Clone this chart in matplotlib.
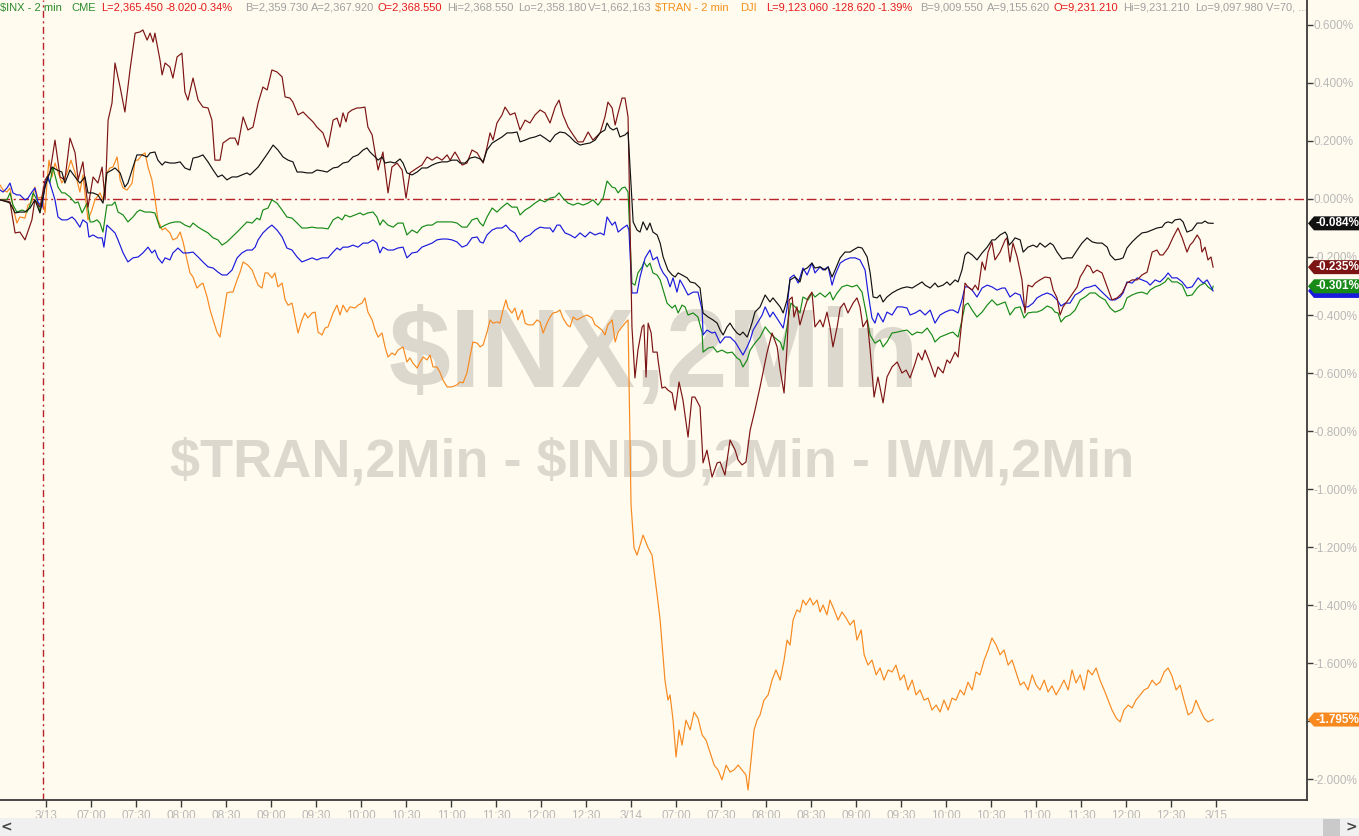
import numpy as np
import matplotlib
matplotlib.use("Agg")
import matplotlib.pyplot as plt
from matplotlib.patches import Polygon, Rectangle

# x = 2-minute bar index counted from the 3/13 open, y = % change
blk_x = [-15.3, -13.0, -12.0, -10.3, -8.7, -7.0, -5.3, -3.7, -2.0, -0.3, 0.7, 2.0, 3.7, 5.3, 6.3, 8.0, 9.7, 11.3, 13.0, 14.0,
         15.7, 17.3, 19.0, 20.3, 22.0, 23.0, 24.7, 26.3, 27.3, 29.0, 30.3, 32.0, 33.7, 34.7, 36.3, 37.3, 38.7, 39.7, 41.3, 43.0,
         44.7, 46.3, 48.0, 49.0, 50.7, 52.3, 54.0, 55.7, 57.3, 58.7, 60.3, 62.0, 63.7, 65.3, 67.0, 68.0, 69.0, 70.7, 72.3, 74.0,
         75.7, 77.3, 79.0, 80.7, 82.3, 83.7, 85.3, 87.0, 88.7, 90.3, 92.0, 93.7, 95.7, 97.3, 99.0, 100.7, 102.3, 104.0, 105.7, 107.0,
         108.0, 109.7, 110.7, 112.0, 113.0, 114.7, 116.3, 118.0, 119.0, 120.3, 122.0, 123.7, 125.3, 127.0, 128.7, 130.3, 132.0, 133.7, 135.3, 137.0,
         138.0, 139.7, 141.3, 143.0, 144.7, 145.7, 147.0, 148.7, 150.3, 152.0, 153.7, 155.3, 157.0, 158.0, 159.7, 161.3, 163.0, 164.7, 166.3, 168.0,
         169.7, 171.3, 173.0, 174.7, 176.3, 178.0, 179.7, 181.3, 183.0, 184.7, 186.3, 187.0, 188.0, 189.0, 190.3, 191.3, 193.0, 194.0,
         195.7, 197.0, 198.0, 199.0, 200.3, 201.3, 202.3, 203.7, 204.7, 205.7, 207.3, 208.7, 209.7, 210.7, 212.0, 213.7, 214.7, 216.3, 218.0, 219.0,
         220.7, 222.3, 223.7, 224.7, 225.7, 227.0, 228.0, 229.0, 230.3, 231.3, 232.3, 233.7, 234.0, 235.3, 236.3, 238.0, 239.7, 241.3, 242.3, 243.7,
         244.7, 245.7, 247.0, 248.0, 249.7, 251.3, 252.3, 253.7, 255.3, 256.3, 258.0, 259.7, 260.7, 262.0, 263.0, 264.7, 266.3, 268.0, 269.0, 270.7,
         272.0, 273.7, 274.7, 275.7, 277.0, 278.0, 279.0, 280.3, 282.0, 283.7, 285.3, 287.0, 288.7, 290.3, 292.0, 293.0, 294.7, 296.3, 297.3, 299.0,
         300.3, 301.3, 303.0, 304.0, 305.3, 306.3, 307.3, 308.7, 310.3, 312.0, 313.7, 315.3, 316.3, 318.0, 319.7, 320.3, 321.0, 322.0, 323.0, 324.7,
         325.7, 327.3, 329.0, 330.3, 331.3, 333.0, 334.7, 335.7, 337.0, 338.7, 340.3, 342.0, 343.7, 345.3, 347.0, 348.7, 350.3, 352.0, 353.7, 354.7,
         356.3, 358.0, 359.0, 360.3, 362.0, 363.7, 365.3, 367.0, 368.7, 370.3, 372.0, 373.0, 374.0, 375.3, 376.3, 378.0, 379.0, 380.3, 382.0, 383.7,
         385.3, 386.3, 387.3, 389.0]
blk_y = [-0.003, -0.010, -0.014, -0.048, -0.045, -0.045, -0.031, -0.003, -0.048, 0.041, 0.076, 0.110, 0.100, 0.093, 0.055, 0.100, 0.076, 0.055, 0.076, 0.021,
         0.021, 0.014, -0.014, 0.090, 0.100, 0.107, 0.090, 0.041, 0.055, 0.110, 0.152, 0.152, 0.145, 0.159, 0.162, 0.134, 0.117, 0.128, 0.124, 0.124,
         0.128, 0.107, 0.100, 0.141, 0.145, 0.152, 0.128, 0.100, 0.076, 0.083, 0.066, 0.076, 0.076, 0.083, 0.090, 0.083, 0.093, 0.110, 0.134, 0.159,
         0.186, 0.169, 0.145, 0.134, 0.128, 0.093, 0.093, 0.090, 0.090, 0.100, 0.097, 0.093, 0.107, 0.110, 0.124, 0.128, 0.145, 0.152, 0.169, 0.176,
         0.162, 0.145, 0.134, 0.145, 0.124, 0.128, 0.124, 0.138, 0.124, 0.090, 0.083, 0.093, 0.107, 0.107, 0.117, 0.124, 0.128, 0.128, 0.134, 0.134,
         0.124, 0.124, 0.141, 0.145, 0.138, 0.128, 0.169, 0.193, 0.203, 0.214, 0.228, 0.228, 0.231, 0.197, 0.203, 0.210, 0.214, 0.221, 0.210, 0.197,
         0.221, 0.231, 0.228, 0.214, 0.197, 0.186, 0.190, 0.193, 0.203, 0.228, 0.238, 0.262, 0.245, 0.238, 0.245, 0.214, 0.221, 0.231,
         -0.079, -0.107, -0.114, -0.079, -0.107, -0.083, -0.114, -0.124, -0.152, -0.200, -0.245, -0.262, -0.269, -0.255, -0.262, -0.272, -0.286, -0.290, -0.307, -0.393,
         -0.407, -0.417, -0.428, -0.452, -0.469, -0.441, -0.428, -0.445, -0.462, -0.469, -0.459, -0.476, -0.469, -0.428, -0.390, -0.372, -0.331, -0.355, -0.341, -0.359,
         -0.372, -0.393, -0.348, -0.279, -0.269, -0.286, -0.245, -0.238, -0.221, -0.238, -0.234, -0.245, -0.234, -0.269, -0.245, -0.203, -0.183, -0.183, -0.176, -0.166,
         -0.169, -0.200, -0.255, -0.338, -0.341, -0.331, -0.355, -0.338, -0.324, -0.314, -0.307, -0.303, -0.307, -0.297, -0.286, -0.297, -0.307, -0.290, -0.303, -0.297,
         -0.286, -0.297, -0.279, -0.286, -0.245, -0.193, -0.183, -0.193, -0.210, -0.186, -0.166, -0.141, -0.141, -0.124, -0.114, -0.124, -0.159, -0.148, -0.134, -0.141,
         -0.183, -0.166, -0.159, -0.166, -0.152, -0.166, -0.152, -0.159, -0.183, -0.207, -0.203, -0.203, -0.176, -0.152, -0.134, -0.148, -0.152, -0.152, -0.166, -0.193,
         -0.210, -0.207, -0.203, -0.169, -0.148, -0.131, -0.117, -0.114, -0.107, -0.100, -0.097, -0.083, -0.079, -0.083, -0.072, -0.069, -0.079, -0.114, -0.107, -0.083,
         -0.083, -0.076, -0.083, -0.084]

mar_x = [-15.3, -12.0, -10.3, -8.7, -7.0, -4.7, -3.7, -2.0, -0.3, 1.3, 3.0, 4.7, 6.3, 8.0, 9.7, 10.7, 12.3, 14.0, 15.7, 17.3,
         18.7, 19.7, 20.7, 22.0, 23.0, 24.7, 26.3, 28.0, 29.7, 31.3, 32.3, 33.7, 34.7, 35.7, 36.3, 38.0, 38.7, 39.7, 41.3, 42.3,
         43.7, 45.3, 46.3, 47.3, 49.0, 50.7, 52.3, 54.0, 55.3, 56.3, 58.0, 59.0, 61.3, 63.0, 64.0, 65.7, 67.3, 69.0, 70.7, 72.3,
         73.7, 75.3, 77.0, 78.7, 79.7, 81.3, 82.3, 84.0, 85.7, 87.3, 89.0, 90.3, 92.3, 94.0, 95.7, 97.0, 98.0, 99.0, 100.0, 100.7,
         102.0, 103.7, 104.7, 106.3, 107.3, 108.7, 109.7, 110.7, 112.3, 114.0, 115.3, 117.0, 118.7, 120.0, 121.3, 123.7, 125.3, 127.0, 128.7, 130.3,
         132.0, 133.7, 134.7, 136.3, 137.3, 138.7, 140.3, 142.0, 143.7, 145.7, 147.0, 148.0, 149.0, 150.3, 152.0, 153.0, 154.7, 156.3, 158.0, 159.7,
         161.3, 163.0, 164.7, 166.3, 168.0, 169.7, 171.0, 172.3, 174.0, 175.7, 177.3, 179.0, 180.7, 182.3, 184.7, 186.3, 187.3, 188.7, 189.7, 190.7,
         192.0, 193.0, 194.0,
         195.3, 196.3, 197.3, 198.7, 199.3, 200.0, 200.7, 201.7, 202.3, 203.7, 204.0, 205.3, 206.3, 207.3, 208.7, 209.7, 211.0, 212.3, 214.0, 215.3,
         216.3, 218.0, 219.0, 220.3, 222.0, 223.7, 224.7, 226.3, 228.0, 229.7, 230.7, 232.0, 233.3, 234.7, 236.3, 238.0, 240.3, 242.0, 243.7, 244.7,
         246.0, 247.0, 247.7, 248.7, 249.3, 250.3, 251.3, 253.0, 254.0, 255.3, 256.3, 258.0, 259.0, 260.3, 261.3, 262.3, 263.7, 264.7, 266.0, 267.3,
         269.0, 270.3, 271.3, 272.3, 273.7, 274.7, 276.0, 277.3, 279.0, 280.3, 282.0, 283.7, 285.3, 286.7, 288.0, 289.7, 290.7, 292.0, 293.0, 294.7,
         296.3, 297.3, 299.0, 300.3, 301.3, 303.0, 304.0, 305.3, 306.3, 307.3, 308.7, 309.7, 310.7, 312.0, 313.0, 314.0, 315.3, 316.3, 318.0, 319.7,
         320.3, 321.3, 322.3, 323.7, 325.3, 326.3, 327.3, 328.7, 329.7, 331.3, 333.0, 334.7, 335.7, 337.0, 338.0, 339.0, 340.7, 342.3, 343.7, 344.7,
         345.7, 347.0, 348.0, 349.0, 350.3, 352.0, 353.7, 355.3, 357.0, 358.7, 360.3, 362.0, 363.7, 365.3, 367.0, 368.7, 370.3, 371.3, 372.3, 374.0,
         375.7, 377.3, 378.7, 380.3, 381.3, 382.3, 383.7, 384.7, 385.3, 386.3, 387.3, 388.3, 389.0]
mar_y = [-0.003, -0.010, -0.117, -0.114, -0.141, -0.072, -0.003, -0.028, 0.066, 0.090, 0.203, 0.076, 0.066, 0.210, 0.159, 0.066, 0.128, -0.028, 0.076, 0.055,
         0.110, -0.003, 0.272, 0.331, 0.469, 0.386, 0.300, 0.445, 0.572, 0.576, 0.583, 0.548, 0.572, 0.541, 0.572, 0.479, 0.428, 0.469, 0.455, 0.417,
         0.490, 0.503, 0.369, 0.341, 0.417, 0.341, 0.317, 0.314, 0.272, 0.134, 0.134, 0.193, 0.210, 0.210, 0.186, 0.283, 0.238, 0.248, 0.331, 0.386,
         0.376, 0.445, 0.438, 0.421, 0.352, 0.348, 0.334, 0.290, 0.300, 0.283, 0.266, 0.248, 0.228, 0.179, 0.272, 0.279, 0.248, 0.297, 0.266, 0.297,
         0.307, 0.314, 0.314, 0.317, 0.248, 0.221, 0.159, 0.100, 0.162, 0.021, 0.110, 0.124, 0.100, 0.003, 0.090, 0.107, 0.117, 0.145, 0.134, 0.145,
         0.134, 0.152, 0.134, 0.162, 0.145, 0.117, 0.124, 0.169, 0.159, 0.124, 0.179, 0.228, 0.203, 0.262, 0.290, 0.317, 0.290, 0.297, 0.238, 0.272,
         0.262, 0.290, 0.307, 0.297, 0.262, 0.317, 0.341, 0.290, 0.248, 0.221, 0.197, 0.197, 0.231, 0.203, 0.228, 0.283, 0.334, 0.314, 0.255, 0.297,
         0.348, 0.348, 0.283,
         -0.441, -0.617, -0.521, -0.441, -0.434, -0.614, -0.428, -0.462, -0.528, -0.528, -0.555, -0.652, -0.648, -0.659, -0.669, -0.728, -0.631, -0.693, -0.821, -0.683,
         -0.683, -0.717, -0.910, -0.866, -0.959, -0.910, -0.907, -0.952, -0.831, -0.866, -0.900, -0.917, -0.907, -0.797, -0.728, -0.648, -0.531, -0.462, -0.510, -0.590,
         -0.669, -0.510, -0.348, -0.338, -0.407, -0.372, -0.434, -0.372, -0.341, -0.321, -0.441, -0.417, -0.441, -0.390, -0.441, -0.510, -0.441, -0.376, -0.359, -0.393,
         -0.359, -0.341, -0.372, -0.441, -0.417, -0.521, -0.683, -0.614, -0.703, -0.614, -0.579, -0.562, -0.600, -0.590, -0.617, -0.566, -0.531, -0.555, -0.521, -0.566,
         -0.614, -0.579, -0.600, -0.555, -0.566, -0.528, -0.545, -0.417, -0.290, -0.303, -0.314, -0.297, -0.314, -0.217, -0.245, -0.183, -0.148, -0.210, -0.183, -0.141,
         -0.134, -0.217, -0.152, -0.200, -0.279, -0.393, -0.297, -0.303, -0.290, -0.279, -0.269, -0.272, -0.314, -0.341, -0.400, -0.372, -0.348, -0.324, -0.303, -0.269,
         -0.252, -0.228, -0.234, -0.255, -0.245, -0.255, -0.303, -0.348, -0.341, -0.324, -0.290, -0.279, -0.279, -0.262, -0.252, -0.183, -0.176, -0.193, -0.193, -0.169,
         -0.131, -0.100, -0.134, -0.183, -0.159, -0.148, -0.124, -0.141, -0.183, -0.166, -0.210, -0.200, -0.235]

grn_x = [-15.3, -13.0, -12.0, -11.0, -9.7, -8.0, -6.3, -5.3, -4.3, -3.0, -2.0, -1.0, 0.3, 1.3, 2.3, 4.0, 5.3, 6.3, 8.0, 9.7,
         10.7, 12.0, 13.7, 14.7, 15.7, 17.0, 18.0, 19.0, 20.3, 22.0, 23.0, 24.0, 25.7, 27.3, 29.0, 30.3, 31.3, 33.0, 34.7, 36.3,
         38.0, 39.7, 41.3, 43.0, 44.7, 46.3, 48.0, 49.0, 50.7, 52.3, 54.0, 55.7, 57.3, 58.7, 60.3, 62.0, 63.7, 65.3, 67.0, 68.7,
         70.3, 71.3, 72.3, 74.0, 75.3, 77.0, 78.7, 80.3, 82.0, 83.7, 85.3, 87.0, 88.7, 90.3, 92.0, 94.0, 95.7, 97.3, 98.7, 99.7,
         101.3, 103.0, 104.7, 105.7, 107.3, 109.0, 110.3, 111.3, 112.3, 114.0, 115.7, 117.3, 119.0, 120.3, 122.0, 123.7, 125.3, 127.0, 128.7, 130.3,
         132.0, 133.7, 135.3, 137.0, 138.7, 140.3, 142.0, 143.7, 144.7, 145.7, 147.0, 148.7, 150.3, 152.0, 153.7, 155.3, 157.0, 158.0, 159.7, 161.3,
         163.0, 164.7, 166.3, 168.0, 169.7, 171.0, 172.3, 174.0, 175.7, 177.3, 179.0, 180.7, 182.3, 184.0, 185.7, 187.0, 188.7, 189.7, 190.7, 192.0,
         193.0, 194.0,
         195.3, 196.3, 197.3, 198.7, 199.3, 200.3, 201.3, 202.3, 203.7, 204.7, 205.7, 207.0, 208.7, 209.7, 210.7, 212.0, 213.0, 214.0, 215.7, 217.3,
         218.7, 219.0, 220.7, 222.3, 223.7, 225.3, 227.0, 228.7, 230.3, 231.3, 232.3, 233.7, 234.7, 236.3, 238.0, 239.7, 241.3, 243.0, 244.7, 245.7,
         247.0, 248.3, 249.7, 251.3, 252.3, 254.0, 255.3, 256.3, 258.0, 259.7, 261.3, 262.3, 263.7, 265.3, 267.0, 268.7, 270.3, 272.0, 273.3, 274.7,
         276.3, 278.0, 279.0, 280.3, 282.0, 283.7, 285.3, 287.0, 288.7, 290.3, 292.0, 293.7, 295.3, 296.3, 298.0, 299.7, 301.3, 302.3, 304.0, 305.3,
         306.3, 307.3, 308.7, 310.3, 312.0, 313.7, 315.3, 317.0, 318.7, 319.7, 321.3, 323.0, 324.7, 326.0, 327.3, 329.0, 330.3, 332.0, 333.7, 335.3,
         336.3, 337.3, 338.3, 339.7, 341.3, 343.0, 344.7, 346.3, 348.0, 349.7, 351.3, 353.0, 354.7, 356.3, 358.0, 359.0, 360.3, 362.0, 363.7, 365.3,
         367.0, 368.0, 369.7, 371.3, 373.0, 374.0, 375.3, 377.0, 378.7, 380.3, 382.0, 383.7, 384.7, 386.3, 387.3, 388.7, 389.0]
grn_y = [-0.003, -0.003, 0.021, -0.021, -0.045, -0.038, -0.045, -0.021, 0.021, -0.003, -0.045, 0.014, 0.076, 0.055, 0.110, 0.041, 0.021, 0.021, 0.007, -0.014,
         -0.010, -0.048, -0.014, -0.079, -0.079, -0.072, -0.083, -0.114, -0.021, -0.021, -0.010, -0.045, -0.055, -0.079, -0.062, -0.045, -0.038, -0.045, -0.045, -0.048,
         -0.100, -0.090, -0.083, -0.079, -0.079, -0.090, -0.097, -0.083, -0.097, -0.107, -0.117, -0.134, -0.141, -0.159, -0.148, -0.131, -0.114, -0.097, -0.079, -0.083,
         -0.066, -0.072, -0.038, -0.031, -0.003, -0.014, -0.038, -0.062, -0.066, -0.083, -0.100, -0.100, -0.097, -0.100, -0.100, -0.103, -0.072, -0.062, -0.072, -0.055,
         -0.062, -0.055, -0.048, -0.055, -0.048, -0.045, -0.062, -0.090, -0.072, -0.090, -0.097, -0.083, -0.083, -0.124, -0.107, -0.117, -0.097, -0.090, -0.090, -0.079,
         -0.079, -0.079, -0.079, -0.083, -0.097, -0.097, -0.072, -0.066, -0.083, -0.093, -0.062, -0.031, -0.045, -0.028, -0.014, -0.028, -0.028, -0.055, -0.038, -0.028,
         -0.014, -0.003, -0.010, 0.003, 0.007, 0.021, 0.003, -0.014, -0.021, -0.014, -0.021, -0.014, -0.003, -0.021, 0.003, 0.062, 0.041, 0.038, 0.021, 0.038,
         0.041, 0.024,
         -0.290, -0.297, -0.255, -0.234, -0.217, -0.234, -0.221, -0.255, -0.262, -0.279, -0.314, -0.359, -0.376, -0.366, -0.393, -0.366, -0.372, -0.400, -0.393, -0.407,
         -0.462, -0.528, -0.514, -0.510, -0.528, -0.521, -0.531, -0.528, -0.548, -0.555, -0.579, -0.555, -0.521, -0.497, -0.476, -0.441, -0.462, -0.479, -0.493, -0.521,
         -0.441, -0.359, -0.372, -0.393, -0.338, -0.348, -0.324, -0.338, -0.324, -0.338, -0.321, -0.348, -0.324, -0.303, -0.297, -0.303, -0.297, -0.321, -0.390, -0.469,
         -0.497, -0.486, -0.510, -0.493, -0.462, -0.459, -0.455, -0.452, -0.469, -0.459, -0.462, -0.445, -0.469, -0.493, -0.476, -0.469, -0.462, -0.459, -0.476, -0.417,
         -0.366, -0.359, -0.383, -0.407, -0.390, -0.366, -0.348, -0.366, -0.359, -0.355, -0.400, -0.376, -0.372, -0.410, -0.393, -0.390, -0.390, -0.383, -0.369, -0.376,
         -0.390, -0.393, -0.424, -0.407, -0.400, -0.383, -0.348, -0.338, -0.324, -0.324, -0.338, -0.348, -0.376, -0.390, -0.383, -0.376, -0.341, -0.331, -0.324, -0.321,
         -0.328, -0.314, -0.303, -0.297, -0.286, -0.272, -0.286, -0.286, -0.297, -0.334, -0.331, -0.307, -0.297, -0.290, -0.303, -0.314, -0.301]

blu_x = [-15.3, -14.3, -13.0, -12.0, -11.0, -9.7, -8.7, -7.0, -6.0, -4.7, -3.7, -2.7, -1.3, -0.3, 0.7, 2.0, 3.0, 4.0, 5.3, 7.0,
         8.7, 9.7, 11.3, 12.3, 13.7, 14.3, 15.7, 17.3, 18.7, 19.3, 20.3, 22.0, 23.0, 24.0, 25.7, 27.3, 29.0, 30.7, 32.3, 34.0,
         35.3, 36.3, 37.3, 38.7, 39.7, 41.3, 42.3, 44.0, 45.7, 47.3, 49.0, 50.7, 52.3, 54.0, 55.7, 57.3, 58.7, 60.3, 62.0, 63.7,
         65.3, 67.0, 68.7, 69.7, 70.7, 72.3, 74.0, 75.3, 77.0, 78.7, 80.3, 82.0, 83.7, 85.3, 87.0, 88.7, 90.3, 92.0, 94.0, 95.7,
         97.0, 98.0, 99.0, 100.7, 102.3, 104.0, 105.7, 107.3, 109.0, 110.3, 111.3, 112.3, 114.0, 115.7, 117.3, 119.0, 120.3, 122.0, 123.7, 125.3,
         127.0, 128.7, 130.3, 132.0, 133.7, 135.3, 137.0, 138.7, 140.3, 142.0, 143.7, 144.7, 145.7, 147.0, 148.7, 150.3, 152.0, 153.3, 154.7, 156.3,
         158.0, 159.7, 161.3, 163.0, 164.7, 166.3, 168.0, 169.0, 170.3, 171.3, 173.0, 174.7, 176.3, 178.0, 179.7, 181.3, 183.0, 184.7, 186.0, 187.0,
         188.7, 189.7, 190.7, 192.3, 193.7, 194.3,
         195.3, 197.0, 198.0, 199.7, 201.3, 202.3, 203.7, 204.7, 205.7, 207.0, 208.0, 209.0, 210.3, 211.3, 212.3, 214.0, 215.7, 217.3, 218.7, 219.0,
         220.3, 222.0, 223.0, 224.7, 226.3, 228.0, 229.7, 230.7, 232.3, 233.7, 234.7, 235.7, 237.3, 238.7, 239.7, 241.3, 242.3, 244.0, 245.7, 247.0,
         248.0, 249.3, 250.7, 252.3, 253.7, 255.3, 256.3, 258.0, 259.0, 260.7, 262.0, 263.0, 264.7, 266.3, 268.0, 269.7, 271.3, 273.0, 274.0, 275.3,
         276.3, 277.3, 279.0, 280.3, 282.0, 283.7, 285.3, 287.0, 288.0, 289.7, 291.3, 293.0, 294.7, 296.3, 298.0, 299.7, 301.3, 302.3, 304.0, 305.3,
         306.3, 307.3, 308.7, 310.3, 312.0, 313.7, 315.3, 317.0, 318.7, 319.7, 321.3, 323.0, 324.7, 326.0, 327.3, 329.0, 330.3, 332.0, 333.7, 335.3,
         337.0, 338.3, 339.7, 341.3, 343.0, 344.7, 346.3, 348.0, 349.7, 351.3, 353.0, 354.7, 356.3, 358.0, 359.0, 360.3, 362.0, 363.7, 365.3, 367.0,
         368.0, 369.7, 371.3, 373.0, 374.0, 375.3, 377.0, 378.7, 380.3, 382.0, 384.0, 385.7, 387.0, 388.0, 389.0]
blu_y = [0.031, 0.024, 0.038, 0.055, 0.021, 0.014, 0.014, -0.003, 0.003, 0.024, 0.038, -0.010, -0.028, 0.055, 0.076, 0.031, -0.003, -0.062, -0.072, -0.072,
         -0.062, -0.072, -0.097, -0.072, -0.083, -0.131, -0.124, -0.134, -0.134, -0.166, -0.090, -0.107, -0.117, -0.141, -0.186, -0.217, -0.203, -0.200, -0.186, -0.166,
         -0.186, -0.176, -0.203, -0.221, -0.203, -0.210, -0.186, -0.169, -0.186, -0.186, -0.183, -0.200, -0.217, -0.234, -0.238, -0.252, -0.262, -0.262, -0.245, -0.203,
         -0.186, -0.176, -0.176, -0.166, -0.141, -0.117, -0.100, -0.090, -0.107, -0.131, -0.169, -0.176, -0.200, -0.217, -0.210, -0.203, -0.210, -0.203, -0.203, -0.183,
         -0.169, -0.176, -0.166, -0.166, -0.159, -0.166, -0.152, -0.152, -0.141, -0.152, -0.186, -0.166, -0.176, -0.176, -0.169, -0.166, -0.203, -0.186, -0.183, -0.166,
         -0.159, -0.152, -0.141, -0.138, -0.138, -0.141, -0.148, -0.166, -0.159, -0.134, -0.131, -0.148, -0.152, -0.124, -0.107, -0.100, -0.100, -0.090, -0.107, -0.117,
         -0.148, -0.131, -0.124, -0.107, -0.097, -0.100, -0.100, -0.114, -0.090, -0.090, -0.117, -0.124, -0.134, -0.117, -0.131, -0.114, -0.124, -0.117, -0.124, -0.062,
         -0.090, -0.079, -0.114, -0.100, -0.090, -0.107,
         -0.324, -0.324, -0.269, -0.203, -0.176, -0.210, -0.200, -0.234, -0.255, -0.272, -0.303, -0.272, -0.321, -0.279, -0.297, -0.331, -0.321, -0.321, -0.383, -0.469,
         -0.452, -0.462, -0.459, -0.497, -0.476, -0.476, -0.493, -0.510, -0.538, -0.510, -0.486, -0.452, -0.424, -0.400, -0.372, -0.407, -0.390, -0.417, -0.445, -0.376,
         -0.272, -0.262, -0.290, -0.238, -0.262, -0.221, -0.255, -0.234, -0.245, -0.234, -0.297, -0.262, -0.221, -0.210, -0.203, -0.203, -0.210, -0.245, -0.324, -0.410,
         -0.428, -0.393, -0.424, -0.390, -0.400, -0.372, -0.372, -0.376, -0.400, -0.393, -0.383, -0.400, -0.383, -0.428, -0.400, -0.390, -0.383, -0.383, -0.393, -0.348,
         -0.303, -0.303, -0.314, -0.338, -0.307, -0.297, -0.303, -0.314, -0.307, -0.307, -0.338, -0.324, -0.331, -0.372, -0.372, -0.359, -0.341, -0.331, -0.324, -0.331,
         -0.348, -0.369, -0.359, -0.359, -0.331, -0.321, -0.307, -0.303, -0.297, -0.314, -0.331, -0.348, -0.348, -0.338, -0.324, -0.286, -0.290, -0.272, -0.279, -0.286,
         -0.297, -0.279, -0.286, -0.269, -0.255, -0.272, -0.272, -0.286, -0.307, -0.303, -0.272, -0.290, -0.279, -0.297, -0.317]

org_x = [-15.3, -14.3, -13.0, -12.0, -11.0, -9.7, -8.7, -7.0, -6.0, -4.7, -3.7, -2.7, -1.3, -0.3, 0.3, 1.0, 2.0, 3.0, 4.0, 5.3,
         7.0, 8.3, 9.7, 11.3, 12.3, 14.0, 15.3, 16.3, 18.0, 19.0, 20.3, 21.3, 22.3, 23.7, 24.7, 25.7, 27.0, 28.7, 29.7, 30.7,
         32.0, 33.0, 34.0, 35.3, 36.3, 37.3, 38.7, 39.7, 41.3, 42.3, 43.7, 44.7, 45.7, 47.0, 48.0, 49.0, 50.3, 51.3, 52.3, 53.7,
         54.7, 55.7, 57.0, 58.0, 59.0, 60.3, 61.3, 62.3, 63.7, 64.7, 65.7, 67.3, 68.7, 69.7, 70.7, 72.0, 73.0, 74.0, 75.3, 76.3,
         77.3, 78.7, 79.7, 80.7, 82.0, 83.0, 84.0, 85.3, 86.3, 87.3, 88.7, 89.7, 90.7, 92.0, 93.0, 94.0, 95.7, 97.0, 98.0, 99.0,
         100.3, 101.3, 103.0, 104.0, 105.3, 106.3, 107.3, 108.7, 109.7, 110.7, 112.0, 113.0, 114.0, 115.3, 116.3, 117.3, 119.0, 120.3, 121.3, 122.3,
         123.7, 124.7, 125.7, 127.0, 128.0, 129.0, 130.3, 131.3, 132.3, 133.7, 135.3, 137.0, 138.0, 139.0, 140.3, 141.3, 142.3, 143.7, 144.7, 145.7,
         147.0, 148.0, 149.0, 150.3, 151.3, 152.3, 153.3, 154.0, 155.3, 156.3, 157.3, 158.7, 159.7, 160.7, 162.3, 163.7, 164.7, 165.7, 167.0, 168.0,
         169.0, 170.3, 171.3, 172.3, 173.7, 174.7, 175.7, 177.0, 178.7, 180.3, 182.0, 183.0, 184.0, 185.3, 186.3, 187.3, 188.7, 189.7, 190.7, 192.0,
         193.0, 194.0,
         195.0, 196.0, 197.0, 198.0, 199.0, 200.7, 202.0, 203.7, 204.7, 206.3, 207.3, 208.0, 209.0, 210.0, 211.0, 212.0, 213.3, 214.7, 216.0, 217.3,
         218.7, 220.0, 221.3, 222.7, 224.0, 225.3, 226.7, 228.0, 229.3, 230.7, 232.0, 233.3, 234.0, 235.0, 236.0, 237.0, 238.0, 239.3, 240.7, 242.0,
         243.3, 244.7, 246.0, 247.0, 248.0, 249.0, 250.3, 251.3, 252.3, 253.3, 254.7, 255.7, 257.0, 258.0, 259.0, 260.3, 261.3, 262.7, 264.0, 265.3,
         266.7, 268.0, 269.3, 270.3, 271.7, 272.7, 274.0, 275.3, 276.7, 278.0, 279.3, 280.7, 282.0, 283.3, 284.7, 286.0, 287.3, 288.7, 290.0, 291.3,
         292.7, 294.0, 295.3, 296.7, 298.0, 299.3, 300.7, 302.0, 303.3, 304.7, 306.0, 307.3, 308.7, 310.0, 311.3, 312.7, 314.0, 315.3, 316.7, 318.0,
         319.3, 320.7, 322.0, 323.3, 324.7, 326.0, 327.3, 328.7, 330.0, 331.3, 332.7, 334.0, 335.3, 336.7, 338.0, 339.3, 340.7, 342.0, 343.3, 344.7,
         346.0, 347.3, 348.7, 350.0, 351.3, 352.7, 354.0, 355.3, 356.7, 358.0, 359.3, 360.7, 362.0, 363.3, 364.7, 366.0, 367.3, 368.7, 370.0, 371.3,
         372.7, 374.0, 375.3, 376.7, 378.0, 379.3, 380.7, 382.0, 383.3, 384.7, 386.0, 387.3, 389.0]
org_y = [0.048, 0.031, 0.024, 0.038, -0.028, -0.083, -0.062, -0.066, -0.021, -0.010, 0.041, 0.003, 0.007, -0.048, 0.055, 0.134, 0.076, 0.124, 0.093, 0.055,
         0.090, 0.134, 0.090, 0.024, 0.083, -0.072, -0.038, -0.003, 0.021, -0.003, 0.090, 0.107, 0.110, 0.145, 0.066, 0.038, 0.031, 0.055, 0.134, 0.134,
         0.152, 0.159, 0.110, 0.066, 0.003, -0.072, -0.107, -0.100, -0.117, -0.141, -0.134, -0.114, -0.148, -0.210, -0.255, -0.269, -0.307, -0.297, -0.290, -0.338,
         -0.383, -0.417, -0.459, -0.476, -0.410, -0.324, -0.321, -0.321, -0.279, -0.252, -0.217, -0.228, -0.245, -0.272, -0.297, -0.307, -0.255, -0.255, -0.272, -0.255,
         -0.303, -0.290, -0.348, -0.366, -0.359, -0.410, -0.462, -0.417, -0.393, -0.410, -0.393, -0.390, -0.459, -0.469, -0.445, -0.441, -0.393, -0.366, -0.400, -0.366,
         -0.390, -0.372, -0.376, -0.366, -0.359, -0.341, -0.390, -0.417, -0.452, -0.476, -0.462, -0.510, -0.545, -0.531, -0.538, -0.521, -0.510, -0.562, -0.548, -0.566,
         -0.583, -0.562, -0.545, -0.555, -0.538, -0.579, -0.579, -0.597, -0.624, -0.648, -0.648, -0.641, -0.631, -0.634, -0.600, -0.545, -0.493, -0.497, -0.510, -0.503,
         -0.459, -0.417, -0.428, -0.424, -0.428, -0.383, -0.348, -0.376, -0.393, -0.376, -0.417, -0.383, -0.428, -0.434, -0.434, -0.417, -0.424, -0.462, -0.428, -0.407,
         -0.393, -0.390, -0.383, -0.410, -0.434, -0.441, -0.407, -0.417, -0.407, -0.400, -0.410, -0.434, -0.441, -0.452, -0.469, -0.434, -0.417, -0.493, -0.459, -0.441,
         -0.428, -0.417,
         -1.055, -1.203, -1.228, -1.193, -1.159, -1.203, -1.228, -1.366, -1.452, -1.659, -1.728, -1.710, -1.797, -1.924, -1.831, -1.883, -1.797, -1.831, -1.769, -1.790,
         -1.848, -1.866, -1.907, -1.952, -1.969, -2.003, -1.952, -1.976, -1.969, -1.952, -1.969, -1.986, -2.038, -1.934, -1.831, -1.797, -1.779, -1.728, -1.710, -1.659,
         -1.624, -1.659, -1.590, -1.521, -1.538, -1.452, -1.417, -1.424, -1.383, -1.400, -1.376, -1.400, -1.383, -1.424, -1.400, -1.434, -1.383, -1.417, -1.452, -1.424,
         -1.445, -1.469, -1.452, -1.521, -1.486, -1.572, -1.607, -1.590, -1.641, -1.617, -1.659, -1.624, -1.631, -1.607, -1.659, -1.641, -1.693, -1.659, -1.710, -1.693,
         -1.728, -1.721, -1.762, -1.745, -1.769, -1.728, -1.762, -1.721, -1.728, -1.693, -1.710, -1.666, -1.693, -1.631, -1.641, -1.590, -1.555, -1.514, -1.538, -1.572,
         -1.555, -1.607, -1.590, -1.631, -1.676, -1.666, -1.693, -1.641, -1.676, -1.693, -1.659, -1.700, -1.679, -1.710, -1.686, -1.659, -1.693, -1.624, -1.669, -1.641,
         -1.693, -1.624, -1.641, -1.617, -1.659, -1.693, -1.728, -1.762, -1.790, -1.803, -1.762, -1.745, -1.755, -1.728, -1.710, -1.693, -1.686, -1.659, -1.676, -1.666,
         -1.631, -1.617, -1.645, -1.693, -1.676, -1.728, -1.779, -1.769, -1.728, -1.762, -1.790, -1.803, -1.795]

tick_pos = [0, 15, 30, 45, 60, 75, 90, 105, 120, 135, 150, 165, 180,
            195, 210, 225, 240, 255, 270, 285, 300, 315, 330, 345, 360, 375, 390]
tick_lab = ["3/13", "07:00", "07:30", "08:00", "08:30", "09:00", "09:30", "10:00", "10:30", "11:00", "11:30", "12:00", "12:30",
            "3/14", "07:00", "07:30", "08:00", "08:30", "09:00", "09:30", "10:00", "10:30", "11:00", "11:30", "12:00", "12:30", "3/15"]
y_ticks = [0.6, 0.4, 0.2, 0.0, -0.2, -0.4, -0.6, -0.8, -1.0, -1.2, -1.4, -1.6, -1.8, -2.0]

last_vals = [(-0.317, "#1a1adc", ""), (-0.084, "#111111", "-0.084%"), (-0.235, "#7d1414", "-0.235%"),
             (-0.301, "#178a17", "-0.301%"), (-1.795, "#f7891f", "-1.795%")]

header = [
    (0, "$INX - 2 min", "#2c8c2c"), (71, "CME", "#2c8c2c"), (101, "L=2,365.450", "#e41b1b"),
    (166, "-8.020", "#e41b1b"), (198, "-0.34%", "#e41b1b"), (245, "B=2,359.730", "#a0a0a0"),
    (311, "A=2,367.920", "#a0a0a0"), (378, "O=2,368.550", "#e41b1b"), (447, "Hi=2,368.550", "#a0a0a0"),
    (518, "Lo=2,358.180", "#a0a0a0"), (588, "V=1,662,163", "#a0a0a0"), (655, "$TRAN - 2 min", "#f39019"),
    (740, "DJI", "#f39019"), (766, "L=9,123.060", "#e41b1b"), (831, "-128.620", "#e41b1b"),
    (877, "-1.39%", "#e41b1b"), (920, "B=9,009.550", "#a0a0a0"), (987, "A=9,155.620", "#a0a0a0"),
    (1054, "O=9,231.210", "#e41b1b"), (1123, "Hi=9,231.210", "#a0a0a0"), (1195, "Lo=9,097.980", "#a0a0a0"),
    (1266, "V=70, ...", "#a0a0a0"),
]

W, H = 1359, 836
bg = "#fffbef"
sans = ["Liberation Sans", "DejaVu Sans"]

fig = plt.figure(figsize=(W / 100, H / 100), dpi=100, facecolor=bg)
ax = fig.add_axes([0, 36 / H, 1307 / W, 800 / H])
ax.set_facecolor(bg)

# watermark
ax.text(0.5, 0.552, "$INX,2Min", transform=ax.transAxes, ha="center", va="center", parse_math=False,
        fontsize=80, fontweight="bold", color="#ddd8cd", family=sans, zorder=0)
ax.text(0.499, 0.422, "$TRAN,2Min - $INDU,2Min - IWM,2Min", transform=ax.transAxes, ha="center",
        va="center", parse_math=False, fontsize=39, fontweight="bold", color="#ddd8cd", family=sans, zorder=0)

ax.axhline(0, color="#b8222a", lw=1, dashes=(7, 2.5, 1.5, 2.5), zorder=1)
ax.axvline(-1.0, color="#b8222a", lw=1, dashes=(5, 2.5, 1.5, 2.5), zorder=1)

lw = 0.85
ax.plot(org_x, org_y, color="#f7891f", lw=lw, zorder=3)
ax.plot(grn_x, grn_y, color="#178a17", lw=lw, zorder=3)
ax.plot(blu_x, blu_y, color="#1a1adc", lw=lw, zorder=3)
ax.plot(mar_x, mar_y, color="#7d1414", lw=lw, zorder=4)
ax.plot(blk_x, blk_y, color="#111111", lw=lw, zorder=5)

ax.set_xlim(-15.33, 420.3)
ax.set_ylim(-2.0724, 0.6862)

for s in ["left", "top"]:
    ax.spines[s].set_visible(False)
for s in ["right", "bottom"]:
    ax.spines[s].set_color("#3a3a3a")
    ax.spines[s].set_linewidth(1.3)

ax.yaxis.tick_right()
ax.set_yticks(y_ticks)
# the -1.800% label sits under the orange badge
ax.set_yticklabels(["" if abs(v + 1.8) < 1e-9 else f"{v:.3f}%" for v in y_ticks])
ax.set_xticks(tick_pos)
ax.set_xticklabels(tick_lab)
ax.tick_params(axis="y", direction="out", length=4, width=1, color="#3a3a3a", pad=1,
               labelsize=8.5, labelcolor="#b8b8b8")
ax.tick_params(axis="x", direction="out", length=5, width=1, color="#3a3a3a", pad=2,
               labelsize=8.5, labelcolor="#b8b8b8")
for lab in ax.get_xticklabels() + ax.get_yticklabels():
    lab.set_family(sans)

# last-value badges on the right axis
px = 1 / 1307
py = 1 / 290
tr = ax.get_yaxis_transform()
for v, c, txt in last_vals:
    h = 7 * py
    pts = [(1.0 + 1 * px, v), (1.0 + 7 * px, v + h), (1.0 + 52 * px, v + h),
           (1.0 + 52 * px, v - h), (1.0 + 7 * px, v - h)]
    ax.add_patch(Polygon(pts, closed=True, transform=tr, facecolor=c, edgecolor="none",
                         clip_on=False, zorder=6))
    if txt:
        ax.text(1.0 + 30 * px, v, txt, transform=tr, ha="center", va="center", color="white",
                fontsize=8.5, fontweight="bold", family=sans, clip_on=False, zorder=7)

# header line
for x0, s, c in header:
    fig.text(x0 / W, 1 - 8 / H, s, ha="left", va="center", color=c, fontsize=8, family=sans,
             parse_math=False)

# scroll bar strip
fig.patches.append(Rectangle((0, 0), 1, 18 / H, transform=fig.transFigure, facecolor="#f0f0f0",
                             edgecolor="none", zorder=0))
fig.patches.append(Rectangle((1323 / W, 0), 17 / W, 17 / H, transform=fig.transFigure,
                             facecolor="#cacaca", edgecolor="none", zorder=1))
fig.text(6 / W, 9 / H, "<", ha="center", va="center", fontsize=10, fontweight="bold", color="#444444")
fig.text(1351 / W, 9 / H, ">", ha="center", va="center", fontsize=10, fontweight="bold", color="#444444")

fig.savefig("out.png", dpi=100, facecolor=bg)
